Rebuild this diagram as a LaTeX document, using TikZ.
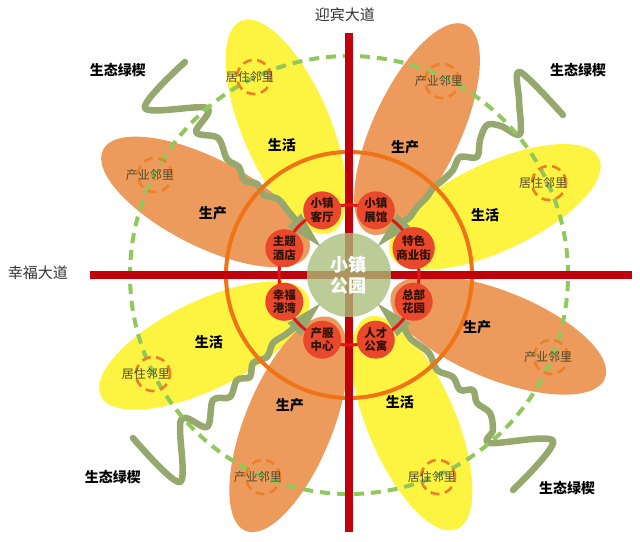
\documentclass[tikz,border=0pt]{standalone}
\usepackage{fontspec}
\setmainfont{Noto Sans CJK SC}
\definecolor{road}{RGB}{192,0,10}
\definecolor{ylw}{RGB}{252,244,64}
\definecolor{org}{RGB}{236,155,92}
\definecolor{ringc}{RGB}{240,115,22}
\definecolor{dgreen}{RGB}{145,200,92}
\definecolor{parkc}{RGB}{168,190,122}
\definecolor{sqc}{RGB}{150,168,110}
\definecolor{hubc}{RGB}{234,72,44}
\definecolor{hubline}{RGB}{228,22,22}
\definecolor{nbc}{RGB}{236,128,40}
\definecolor{nbtext}{RGB}{85,72,40}
\definecolor{hubtext}{RGB}{45,18,8}
\begin{document}
\begin{tikzpicture}[x=1pt,y=1pt,
  petalY/.style={fill=ylw},
  petalO/.style={fill=org},
  squig/.style={draw=sqc,line width=6.5pt,line cap=round,line join=round},
  wedge/.style={fill=sqc},
  greenring/.style={draw=dgreen,line width=4pt,dash pattern=on 10pt off 7pt},
  orangering/.style={draw=ringc,line width=4pt},
  roadline/.style={draw=road,line width=8pt},
  hubring/.style={draw=hubline,line width=3pt},
  park/.style={circle,fill=parkc,fill opacity=0.78,text opacity=1,text=white,minimum size=84pt,inner sep=0pt,align=center,font=\fontsize{18}{21}\selectfont\bfseries},
  hub/.style={circle,fill=hubc,minimum size=38pt,inner sep=0pt,align=center,text=hubtext,font=\fontsize{11.5}{13.5}\selectfont\bfseries},
  nbcirc/.style={circle,draw=nbc,line width=2.6pt,dash pattern=on 9pt off 5.5pt,minimum size=34pt,inner sep=0pt},
  nblabel/.style={text=nbtext,font=\fontsize{12}{14}\selectfont,inner sep=0pt},
  zone/.style={font=\fontsize{14}{16}\selectfont\bfseries,text=black,inner sep=0pt},
  wedgelabel/.style={font=\fontsize{14}{16}\selectfont\bfseries,text=black,inner sep=0pt},
  roadlabel/.style={font=\fontsize{15}{17}\selectfont,text=black!80,inner sep=0pt}
]
\useasboundingbox (-349,-266) rectangle (291,275);

% petals
\foreach \a in {25,113,206,293}{
  \fill[petalY,rotate=\a] (161,0) ellipse [x radius=115pt, y radius=44pt];
}
\foreach \a in {65,153,248,338}{
  \fill[petalO,rotate=\a] (161,0) ellipse [x radius=115pt, y radius=44pt];
}

% green wedges (squiggles)
\draw[squig] plot[smooth,tension=0.55] coordinates {(-52,53) (-61,64) (-71,76) (-85,80) (-92,91) (-105,95) (-110,108) (-122,116) (-131,137) (-153,143) (-142,167) (-204,167) (-164,213)};
\draw[squig] plot[smooth,tension=0.55] coordinates {(54,53) (61,58) (68,68) (78,78) (84,87) (94,95) (104,105) (111,118) (128,118) (131,135) (138,150) (152,149) (171,141) (170,175) (171,203) (214,160)};
\draw[squig] plot[smooth,tension=0.55] coordinates {(-54,-52) (-64,-60) (-76,-68) (-82,-82) (-96,-88) (-99,-102) (-112,-105) (-119,-122) (-136,-125) (-142,-152) (-168,-145) (-169,-207) (-216,-163)};
\draw[squig] plot[smooth,tension=0.55] coordinates {(55,-52) (62,-64) (80,-78) (88,-95) (104,-102) (111,-115) (124,-115) (128,-128) (141,-138) (144,-155) (141,-168) (204,-166) (164,-215)};
\foreach \a in {45,135,225,315}{
  \fill[wedge] (\a:40) -- (\a+7:78) -- (\a-7:78) -- cycle;
}

% rings
\draw[greenring] (0,0) circle [radius=219pt];
\draw[orangering] (0,0) circle [radius=123pt];

% roads
\coordinate (rtop) at (0,242);
\coordinate (rbot) at (0,-257);
\coordinate (rleft) at (-259,0);
\coordinate (rright) at (283,0);
\draw[roadline] (rtop) -- (rbot);
\draw[roadline] (rleft) -- (rright);

% hub ring
\draw[hubring] (0,0) circle [radius=70pt];

% park
\node[park] (park) at (0,0) {小镇\\公园};

% hubs
\node[hub] (h1) at (112.5:70) {小镇\\客厅};
\node[hub] (h2) at (67.5:70) {小镇\\展馆};
\node[hub] (h3) at (22.5:70) {特色\\商业街};
\node[hub] (h4) at (-22.5:70) {总部\\花园};
\node[hub] (h5) at (-67.5:70) {人才\\公寓};
\node[hub] (h6) at (-112.5:70) {产服\\中心};
\node[hub] (h7) at (-157.5:70) {幸福\\港湾};
\node[hub] (h8) at (157.5:70) {主题\\酒店};

% neighbourhoods
\node[nbcirc] (n1) at (-95,198) {};
\node[nblabel] (t1) at ([xshift=-4pt]n1.center) {居住邻里};
\node[nbcirc] (n2) at (-194,100) {};
\node[nblabel] (t2) at ([xshift=-5pt]n2.center) {产业邻里};
\node[nbcirc] (n3) at (93,194) {};
\node[nblabel] (t3) at ([xshift=-3pt]n3.center) {产业邻里};
\node[nbcirc] (n4) at (200,92) {};
\node[nblabel] (t4) at ([xshift=-6pt]n4.center) {居住邻里};
\node[nbcirc] (n5) at (-196,-99) {};
\node[nblabel] (t5) at ([xshift=-7pt]n5.center) {居住邻里};
\node[nbcirc] (n6) at (-86,-202) {};
\node[nblabel] (t6) at ([xshift=-5pt]n6.center) {产业邻里};
\node[nbcirc] (n7) at (202,-82) {};
\node[nblabel] (t7) at ([xshift=-3pt]n7.center) {产业邻里};
\node[nbcirc] (n8) at (89,-202) {};
\node[nblabel] (t8) at ([xshift=-6pt]n8.center) {居住邻里};

% zone labels
\node[zone] (z1) at (-67,130) {生活};
\node[zone] (z2) at (-136,62) {生产};
\node[zone] (z3) at (56,128) {生产};
\node[zone] (z4) at (136,60) {生活};
\node[zone] (z5) at (-140,-67) {生活};
\node[zone] (z6) at (-59,-130) {生产};
\node[zone] (z7) at (128,-52) {生产};
\node[zone] (z8) at (51,-127) {生活};

% green wedge labels
\node[wedgelabel] (g1) at (-231,205) {生态绿楔};
\node[wedgelabel] (g2) at (229,205) {生态绿楔};
\node[wedgelabel] (g3) at (-236,-202) {生态绿楔};
\node[wedgelabel] (g4) at (218,-213) {生态绿楔};

% road labels
\node[roadlabel] (ybl) at (-4,260) {迎宾大道};
\node[roadlabel] (xfl) at (-311,2) {幸福大道};
\end{tikzpicture}
\end{document}
